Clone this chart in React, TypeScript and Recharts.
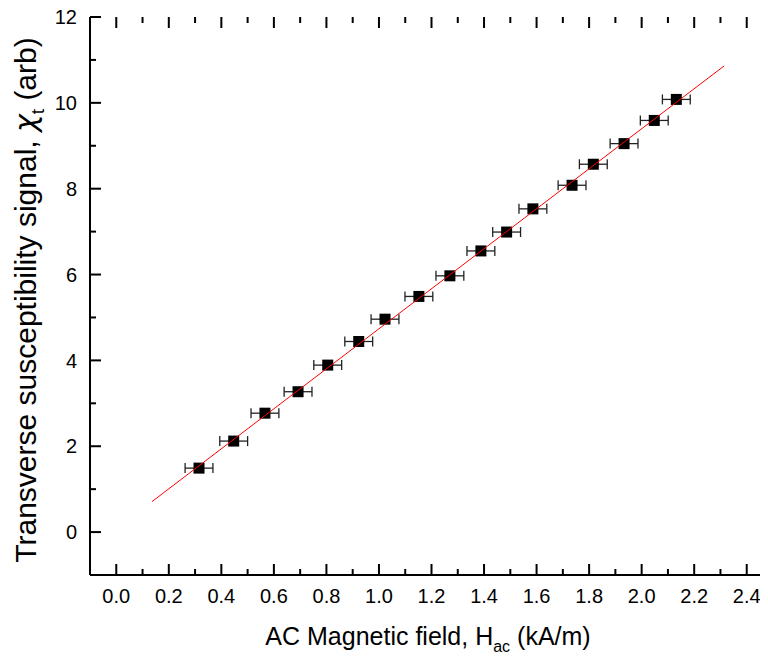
import React from 'react';
import { ScatterChart, Scatter, XAxis, YAxis, ErrorBar, Label, ReferenceLine } from 'recharts';

// Measured data: AC magnetic field H_ac (kA/m) vs transverse susceptibility signal (arb)
const hField = [0.315, 0.447, 0.566, 0.692, 0.805, 0.923, 1.023, 1.152, 1.27, 1.388, 1.486, 1.586, 1.735, 1.816, 1.933, 2.048, 2.132];
const chiT = [1.49, 2.12, 2.77, 3.27, 3.89, 4.44, 4.96, 5.49, 5.97, 6.55, 6.99, 7.53, 8.08, 8.57, 9.05, 9.59, 10.08];
const hErr = [0.053, 0.053, 0.053, 0.053, 0.053, 0.053, 0.053, 0.053, 0.053, 0.053, 0.053, 0.053, 0.053, 0.053, 0.053, 0.053, 0.053];

// Linear fit line end points
const fitH = [0.136, 2.314];
const fitChi = [0.71, 10.86];

// Ticks
const xMajorTicks = [0, 0.2, 0.4, 0.6, 0.8, 1.0, 1.2, 1.4, 1.6, 1.8, 2.0, 2.2, 2.4];
const xMinorTicks = [0.1, 0.3, 0.5, 0.7, 0.9, 1.1, 1.3, 1.5, 1.7, 1.9, 2.1, 2.3, 2.5];
const yMajorTicks = [0, 2, 4, 6, 8, 10, 12];
const yMinorTicks = [-1, 1, 3, 5, 7, 9, 11];

const xDomain = [-0.1, 2.5];
const yDomain = [-1, 12];

const points = hField.map((x, i) => ({ x, y: chiT[i], xErr: hErr[i] }));
const fit = fitH.map((x, i) => ({ x, y: fitChi[i] }));

const FONT = '"Liberation Sans", Arial, Helvetica, sans-serif';

// layout (chart coordinates)
const CHART_W = 790;
const CHART_H = 649;
const M_TOP = 9;
const M_RIGHT = 25;
const Y_AXIS_W = 82;
const X_AXIS_H = 82;
const PLOT_W = CHART_W - M_RIGHT - Y_AXIS_W;
const PLOT_H = CHART_H - X_AXIS_H - M_TOP;

// inward tick lengths in pixels, converted to data units
const MAJOR_PX = 11;
const MINOR_PX = 6;
const xUnitPerPx = (xDomain[1] - xDomain[0]) / PLOT_W;
const yUnitPerPx = (yDomain[1] - yDomain[0]) / PLOT_H;

const BottomTick = (props: any) => {
  const { x, y, payload } = props;
  const v = payload.value;
  return (
    <text x={x} y={y + 28} textAnchor="middle" fontSize={20} fontFamily={FONT} fill="#000">
      {v.toFixed(1)}
    </text>
  );
};

const LeftTick = (props: any) => {
  const { x, y, payload } = props;
  const v = payload.value;
  return (
    <text x={x - 13} y={y} dy="0.36em" textAnchor="end" fontSize={20} fontFamily={FONT} fill="#000">
      {String(v)}
    </text>
  );
};

const Square = (p: any) => (
  <rect x={p.cx - 5.5} y={p.cy - 5.5} width={11} height={11} fill="#000" />
);

const NoShape = () => <g />;

const XTitle = () => (
  <text x={420} y={637} textAnchor="middle" fontSize={25} fontFamily={FONT} fill="#000">
    AC Magnetic field, H
    <tspan fontSize={16} dy={7}>ac</tspan>
    <tspan dy={-7}> (kA/m)</tspan>
  </text>
);

const YTitle = () => (
  <text transform="translate(28, 292) rotate(-90)" textAnchor="middle" fontSize={30} fontFamily={FONT} fill="#000">
    Transverse susceptibility signal, <tspan fontFamily='"DejaVu Sans"' fontStyle="italic">χ</tspan>
    <tspan fontSize={19} dy={8}>t</tspan>
    <tspan dy={-8}> (arb)</tspan>
  </text>
);

const tickStroke = { stroke: '#000', strokeWidth: 2 };

export default function App() {
  const xTickLines = [
    ...xMajorTicks.map((v) => ({ v, len: MAJOR_PX })),
    ...xMinorTicks.map((v) => ({ v, len: MINOR_PX })),
  ];
  const yTickLines = [
    ...yMajorTicks.map((v) => ({ v, len: MAJOR_PX })),
    ...yMinorTicks.map((v) => ({ v, len: MINOR_PX })),
  ];
  return (
    <div style={{ width: 760, height: 649, overflow: 'hidden' }}>
      <ScatterChart width={CHART_W} height={CHART_H} margin={{ top: M_TOP, right: M_RIGHT, bottom: 0, left: 0 }}>
        <XAxis
          type="number"
          dataKey="x"
          domain={xDomain}
          ticks={xMajorTicks}
          interval={0}
          allowDataOverflow
          height={X_AXIS_H}
          tickSize={0}
          tickMargin={0}
          tick={<BottomTick />}
          tickLine={false}
          axisLine={{ stroke: '#000', strokeWidth: 2 }}
        >
          <Label content={<XTitle />} />
        </XAxis>
        <XAxis
          xAxisId="top"
          orientation="top"
          type="number"
          dataKey="x"
          domain={xDomain}
          ticks={xMajorTicks}
          allowDataOverflow
          height={0}
          tick={false}
          tickLine={false}
          axisLine={{ stroke: '#000', strokeWidth: 2 }}
        />
        <YAxis
          type="number"
          dataKey="y"
          domain={yDomain}
          ticks={yMajorTicks}
          interval={0}
          allowDataOverflow
          width={Y_AXIS_W}
          tickSize={0}
          tickMargin={0}
          tick={<LeftTick />}
          tickLine={false}
          axisLine={{ stroke: '#000', strokeWidth: 2 }}
        >
          <Label content={<YTitle />} />
        </YAxis>
        {xTickLines.map((t) => (
          <ReferenceLine
            key={'xb' + t.v}
            segment={[{ x: t.v, y: yDomain[0] }, { x: t.v, y: yDomain[0] + t.len * yUnitPerPx }]}
            {...tickStroke}
          />
        ))}
        {xTickLines.map((t) => (
          <ReferenceLine
            key={'xt' + t.v}
            segment={[{ x: t.v, y: yDomain[1] }, { x: t.v, y: yDomain[1] - t.len * yUnitPerPx }]}
            {...tickStroke}
          />
        ))}
        {yTickLines.map((t) => (
          <ReferenceLine
            key={'yl' + t.v}
            segment={[{ x: xDomain[0], y: t.v }, { x: xDomain[0] + t.len * xUnitPerPx, y: t.v }]}
            {...tickStroke}
          />
        ))}
        <Scatter data={points} shape={<Square />} isAnimationActive={false}>
          <ErrorBar dataKey="xErr" direction="x" width={5} stroke="#222" strokeWidth={1.3} isAnimationActive={false} />
        </Scatter>
        <Scatter
          data={fit}
          shape={<NoShape />}
          line={{ stroke: '#ff0000', strokeWidth: 1 }}
          isAnimationActive={false}
        />
      </ScatterChart>
    </div>
  );
}
